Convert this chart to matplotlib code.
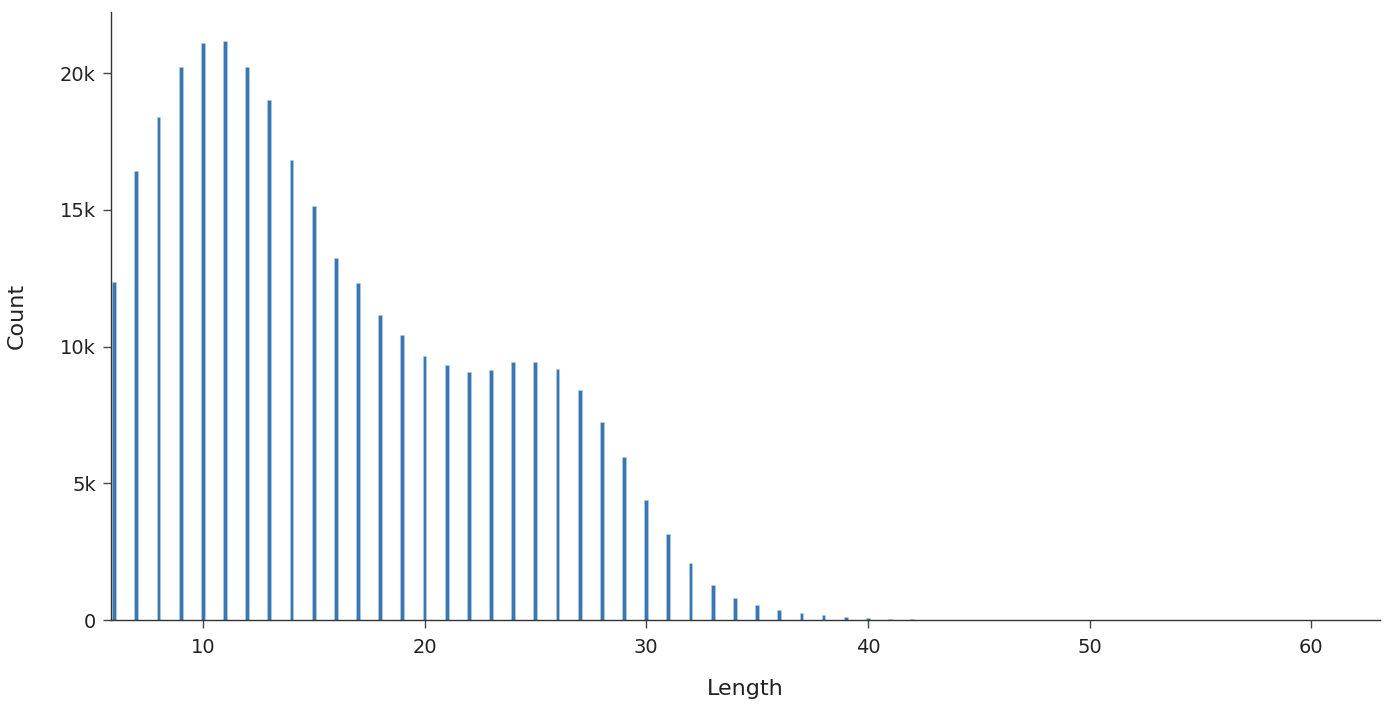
import matplotlib
matplotlib.use("Agg")
import matplotlib.pyplot as plt
from matplotlib.ticker import FuncFormatter

lengths = list(range(6, 43))
counts = [12360, 16420, 18390, 20220, 21100, 21170, 20220, 19010, 16820, 15140,
          13240, 12320, 11150, 10420, 9650, 9320, 9070, 9140, 9430, 9430,
          9180, 8410, 7240, 5960, 4390, 3140, 2080, 1280, 800, 550,
          370, 260, 180, 110, 70, 50, 30]

y_ticks = [0, 5000, 10000, 15000, 20000]
x_ticks = [10, 20, 30, 40, 50, 60]

plt.rcParams['font.family'] = ['DejaVu Sans']
fig = plt.figure(figsize=(13.9, 7.12), dpi=100)
ax = fig.add_axes([0.0799, 0.1292, 0.9129, 0.8539])

ax.bar(lengths, counts, width=0.17, color='#3a76b0', edgecolor='#b5cfe8', linewidth=0.4)

ax.set_xlim(5.86, 63.1)
ax.set_ylim(0, 22230)
ax.set_xticks(x_ticks)
ax.set_yticks(y_ticks)
ax.yaxis.set_major_formatter(FuncFormatter(lambda v, p: '0' if v == 0 else '%dk' % (v / 1000)))

for s in ['top', 'right']:
    ax.spines[s].set_visible(False)
for s in ['left', 'bottom']:
    ax.spines[s].set_color('#333333')
    ax.spines[s].set_linewidth(1.0)

ax.tick_params(axis='both', direction='out', length=6, width=1, color='#444444',
               labelsize=14, labelcolor='#222222', pad=5)
ax.tick_params(axis='x', pad=7)
ax.set_xlabel('Length', fontsize=16, color='#222222', labelpad=16)
ax.set_ylabel('Count', fontsize=16, color='#222222', labelpad=24)

fig.savefig('out.png', dpi=100)
